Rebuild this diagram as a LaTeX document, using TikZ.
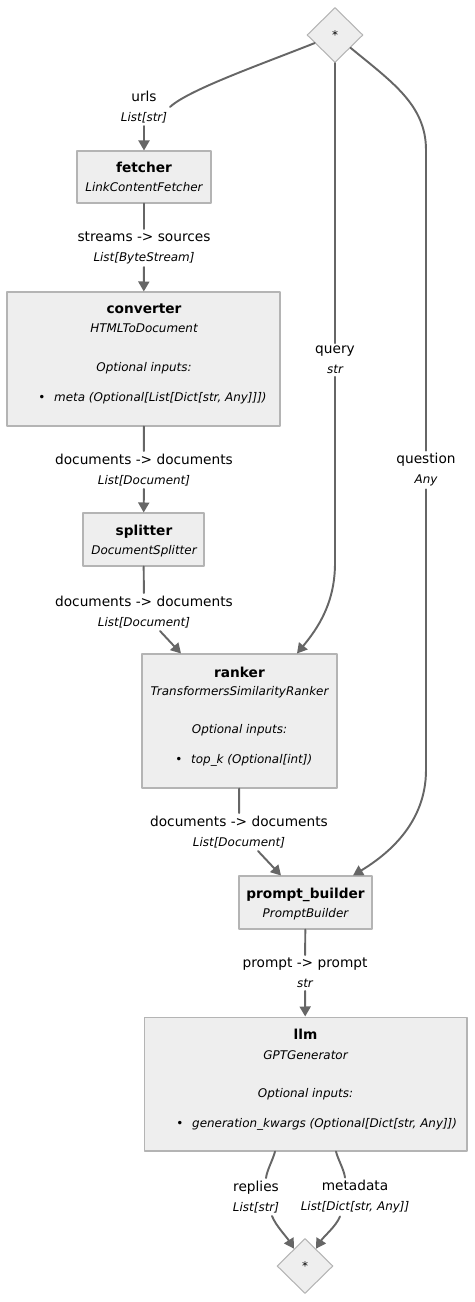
\documentclass[tikz,border=0pt]{standalone}
\usepackage{fontspec}
\setmainfont{DejaVu Sans}
\usetikzlibrary{shapes.geometric,arrows.meta}
\begin{document}
\begin{tikzpicture}[x=0.02cm,y=-0.02cm,line join=round,line cap=round]
	\definecolor{boxgray}{HTML}{EEEEEE}
	\definecolor{linegray}{HTML}{B4B4B4}
	\definecolor{wiregray}{HTML}{666666}
	\def\fbig{\fontsize{7.8}{11.4}\selectfont}
	\def\fsmall{\fontsize{6.8}{11.4}\selectfont}
	
	\tikzset{
		comp/.style={draw=linegray,fill=boxgray,line width=0.6pt,inner sep=0pt},
		junc/.style={diamond,draw=linegray,fill=boxgray,line width=0.6pt,minimum width=1.12cm,minimum height=1.1cm,inner sep=0pt,font=\fsmall},
		ttl/.style={anchor=base,font=\fbig\bfseries,inner sep=0pt},
		sub/.style={anchor=base,font=\fsmall\itshape,inner sep=0pt},
		item/.style={anchor=base west,font=\fsmall\itshape,inner sep=0pt},
		elbl/.style={align=center,inner sep=1.5pt,font=\fbig},
		wire/.style={draw=wiregray,line width=1.1pt},
		arr/.style={wire,-{Triangle[length=0.2cm,width=0.22cm]}}
	}
	
	\useasboundingbox (0,0) rectangle (475,1302);
	
	%% components
	\node[junc] (start) at (335,35) {*};
	\node[comp,minimum width=2.68cm,minimum height=1.04cm] (fetcher) at (144,177) {};
	\node[ttl] at (144,172) {fetcher};
	\node[sub] at (144,191) {LinkContentFetcher};
	
	\node[comp,minimum width=5.46cm,minimum height=2.68cm] (converter) at (143.5,359) {};
	\node[ttl] at (144,313) {converter};
	\node[sub] at (144,332) {HTMLToDocument};
	\node[sub] at (144,371) {Optional inputs:};
	\node[item] at (38,401) {{\upshape •}\hspace{5pt}meta (Optional[List[Dict[str, Any]]])};
	
	\node[comp,minimum width=2.42cm,minimum height=1.06cm] (splitter) at (143.5,539.5) {};
	\node[ttl] at (144,535) {splitter};
	\node[sub] at (144,554) {DocumentSplitter};
	
	\node[comp,minimum width=3.9cm,minimum height=2.68cm] (ranker) at (239.5,721) {};
	\node[ttl] at (239.5,677) {ranker};
	\node[sub] at (239.5,695) {TransformersSimilarityRanker};
	\node[sub] at (239.5,733) {Optional inputs:};
	\node[item] at (175,763) {{\upshape •}\hspace{5pt}top\_k (Optional[int])};
	
	\node[comp,minimum width=2.66cm,minimum height=1.06cm] (pbuilder) at (305.5,902.5) {};
	\node[ttl] at (305.5,898) {prompt\_builder};
	\node[sub] at (305.5,917) {PromptBuilder};
	
	\node[comp,minimum width=6.46cm,minimum height=2.68cm] (llm) at (305.5,1084) {};
	\node[ttl] at (305.5,1039) {llm};
	\node[sub] at (305.5,1059) {GPTGenerator};
	\node[sub] at (305.5,1097) {Optional inputs:};
	\node[item] at (176,1127) {{\upshape •}\hspace{5pt}generation\_kwargs (Optional[Dict[str, Any]])};
	
	\node[junc] (finish) at (305,1266) {*};
	
	%% edge labels
	\node[elbl] (lurls) at (144,107) {urls\\{\fsmall\itshape List[str]}};
	\node[elbl] (lstreams) at (144,248) {streams -> sources\\{\fsmall\itshape List[ByteStream]}};
	\node[elbl] (ldocsA) at (144,470) {documents -> documents\\{\fsmall\itshape List[Document]}};
	\node[elbl] (ldocsB) at (144,612) {documents -> documents\\{\fsmall\itshape List[Document]}};
	\node[elbl] (lquery) at (335,360) {query\\{\fsmall\itshape str}};
	\node[elbl] (lquestion) at (426,470) {question\\{\fsmall\itshape Any}};
	\node[elbl] (ldocsC) at (239,832) {documents -> documents\\{\fsmall\itshape List[Document]}};
	\node[elbl] (lprompt) at (305,973) {prompt -> prompt\\{\fsmall\itshape str}};
	\node[elbl] (lreplies) at (256,1197) {replies\\{\fsmall\itshape List[str]}};
	\node[elbl] (lmeta) at (355,1197) {metadata\\{\fsmall\itshape List[Dict[str, Any]]}};
	
	%% connectors
	\draw[wire] (start) .. controls (262,64) and (188,90) .. (lurls.east);
	\draw[arr] (lurls) -- (fetcher);
	\draw[wire] (fetcher) -- (lstreams);
	\draw[arr] (lstreams) -- (converter);
	\draw[wire] (converter) -- (ldocsA);
	\draw[arr] (ldocsA) -- (splitter);
	\draw[wire] (splitter) -- (ldocsB);
	\draw[arr] ([xshift=0.32cm]ldocsB.south) -- ([xshift=-1.17cm]ranker.north);
	
	\draw[wire] (start) -- (lquery);
	\draw[arr] (lquery) -- ++(0,203) .. controls +(0,40) and (318,628) .. ([xshift=1.15cm]ranker.north);
	
	\draw[wire] (start) .. controls (392,82) and (426,105) .. (426,150) -- (lquestion);
	\draw[arr] (lquestion) -- ++(0,300) .. controls +(0,55) and (385,856) .. ([xshift=0.95cm]pbuilder.north);
	
	\draw[wire] (ranker) -- (ldocsC);
	\draw[arr] ([xshift=0.38cm]ldocsC.south) -- ([xshift=-0.49cm]pbuilder.north);
	\draw[wire] (pbuilder) -- (lprompt);
	\draw[arr] (lprompt) -- (llm);
	
	\draw[wire] ([xshift=-0.61cm]llm.south) .. controls +(-2,8) and +(1,-8) .. ([xshift=0.2cm]lreplies.north);
	\draw[arr] ([xshift=0.32cm]lreplies.south) .. controls +(4,10) and (286,1236) .. (finish);
	\draw[wire] ([xshift=0.61cm]llm.south) .. controls +(2,8) and +(-1,-8) .. ([xshift=-0.2cm]lmeta.north);
	\draw[arr] ([xshift=-0.3cm]lmeta.south) .. controls +(-4,10) and (324,1236) .. (finish);
\end{tikzpicture}
\end{document}
